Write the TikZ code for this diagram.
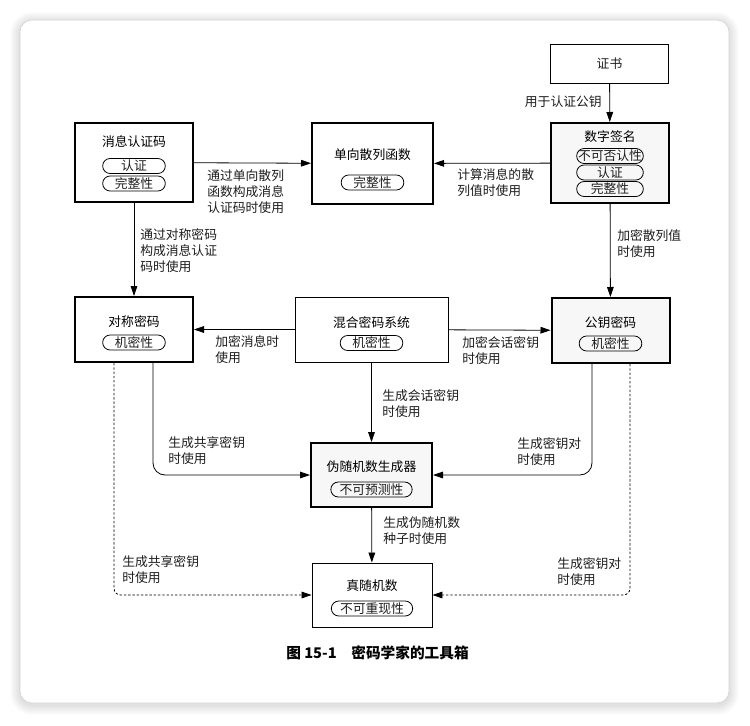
\documentclass[tikz,border=0pt]{standalone}
\usepackage{fontspec}
\setmainfont{Noto Sans CJK SC}
\usepackage{tikz}
\usetikzlibrary{positioning,calc}
\usetikzlibrary{arrows.meta}
\definecolor{InkGray}{RGB}{30,30,30}
\definecolor{CardEdge}{RGB}{212,212,212}
\definecolor{Grain}{RGB}{247,247,247}
\tikzset{
  tool/.style={rectangle,draw=black,line width=1.5pt,minimum width=88.5pt,minimum height=48.75pt,inner sep=0pt},
  plainbox/.style={rectangle,draw=black,line width=0.7pt,minimum width=88.5pt,minimum height=48.75pt,inner sep=0pt,text=InkGray},
  grainy/.style={fill=Grain},
  pill/.style={rectangle,draw=black,line width=0.6pt,rounded corners=5.6pt,minimum width=47pt,minimum height=11.25pt,inner sep=0pt,text=InkGray},
}
\tikzset{ttl/.style={inner sep=0pt,text=black}, lab/.style={align=left,inner sep=0pt,anchor=north west,text=InkGray},
  arr/.style={draw=black,line width=0.6pt,-{Triangle[length=7.5pt,width=5pt]}},
  dots/.style={arr,dash pattern=on 1.8pt off 1.4pt}}

\begin{document}
\begin{tikzpicture}[x=0.75pt,y=-0.75pt,font=\fontsize{9.6pt}{12pt}\selectfont]
\useasboundingbox (0,0) rectangle (750,725);
\fill[white] (0,0) rectangle (750,725);
% card with soft shadow
\foreach \s in {1,...,10}{
  \pgfmathsetmacro\rr{(12+\s)*0.75}
  \fill[black,opacity=0.012,rounded corners=\rr pt] (20-\s,20-\s+2) rectangle (729+\s,703+\s+2);
}
\fill[white,draw=CardEdge,line width=0.5pt,rounded corners=9pt] (20,20) rectangle (729,703);

% boxes
\node[plainbox,minimum height=29.25pt] (cert) at (609.5,63.5) {证书};
\node[tool,grainy,minimum height=60pt] (sig) at (610,163) {};
\node[tool,minimum height=59.25pt] (mac) at (134,162.5) {};
\node[tool,minimum width=90.75pt,minimum height=60.75pt] (hash) at (372.5,163.5) {};
\node[tool] (sym) at (134,329.5) {};
\node[plainbox,minimum width=114.75pt] (hyb) at (371.5,329.5) {};
\node[tool,grainy] (pub) at (610.5,330.5) {};
\node[tool,grainy,minimum width=90.75pt,minimum height=48pt] (prng) at (371.5,475) {};
\node[plainbox,minimum width=90pt,minimum height=48pt] (trng) at (372,595) {};

% titles and properties
\node[ttl] (mac-t) at (134,142) {消息认证码};
\node[pill] (mac-p1) at (134,166) {认证};
\node[pill] (mac-p2) at (134,183.5) {完整性};
\node[ttl] (hash-t) at (372.5,155) {单向散列函数};
\node[pill] (hash-p1) at (372.5,182.5) {完整性};
\node[ttl] (sig-t) at (610,137) {数字签名};
\node[pill,minimum width=50pt] (sig-p1) at (610,156) {不可否认性};
\node[pill,minimum width=50pt] (sig-p2) at (610,172.5) {认证};
\node[pill,minimum width=50pt] (sig-p3) at (610,189) {完整性};
\node[ttl] (sym-t) at (134,322) {对称密码};
\node[pill] (sym-p1) at (134,342.5) {机密性};
\node[ttl] (hyb-t) at (371.5,323) {混合密码系统};
\node[pill] (hyb-p1) at (371.5,343) {机密性};
\node[ttl] (pub-t) at (610.5,323) {公钥密码};
\node[pill] (pub-p1) at (610.5,343.5) {机密性};
\node[ttl] (prng-t) at (371.5,467) {伪随机数生成器};
\node[pill,minimum width=61pt] (prng-p1) at (371.5,489.5) {不可预测性};
\node[ttl] (trng-t) at (372,586) {真随机数};
\node[pill,minimum width=61pt] (trng-p1) at (372,608.5) {不可重现性};

% connectors
\draw[arr] (cert) -- (sig);
\draw[arr] (mac) -- (hash);
\draw[arr] (sig) -- (hash);
\draw[arr] (mac) -- (sym);
\draw[arr] (sig) -- (pub);
\draw[arr] (hyb) -- (sym);
\draw[arr] (hyb) -- (pub);
\draw[arr] (hyb) -- (prng);
\draw[arr,rounded corners=9pt] ($(sym.south)+(19,0)$) |- (prng);
\draw[arr,rounded corners=9pt] ($(pub.south)+(-18.5,0)$) |- (prng);
\draw[arr] (prng) -- (trng);
\draw[dots,rounded corners=5pt] ($(sym.south)+(-20,0)$) |- (trng);
\draw[dots,rounded corners=5pt] ($(pub.south)+(19.5,0)$) |- (trng);

% labels
\node[lab,anchor=north east] (l-cert) at (602,95) {用于认证公钥};
\node[lab] (l-mac-hash) at (207,169) {通过单向散列\\函数构成消息\\认证码时使用};
\node[lab] (l-sig-hash) at (457,168) {计算消息的散\\列值时使用};
\node[lab] (l-mac-sym) at (140,228) {通过对称密码\\构成消息认证\\码时使用};
\node[lab] (l-sig-pub) at (617,229) {加密散列值\\时使用};
\node[lab] (l-hyb-sym) at (215,335) {加密消息时\\使用};
\node[lab] (l-hyb-pub) at (462,336) {加密会话密钥\\时使用};
\node[lab] (l-hyb-prng) at (382,389) {生成会话密钥\\时使用};
\node[lab] (l-sym-prng) at (168,436) {生成共享密钥\\时使用};
\node[lab] (l-pub-prng) at (517,437) {生成密钥对\\时使用};
\node[lab] (l-prng-trng) at (383,516) {生成伪随机数\\种子时使用};
\node[lab] (l-sym-trng) at (122,555) {生成共享密钥\\时使用};
\node[lab] (l-pub-trng) at (557,557) {生成密钥对\\时使用};

% caption
\node[font=\bfseries\fontsize{11pt}{13pt}\selectfont] (cap) at (377.5,653) {图 15-1\hspace{1em}密码学家的工具箱};
\end{tikzpicture}
\end{document}
